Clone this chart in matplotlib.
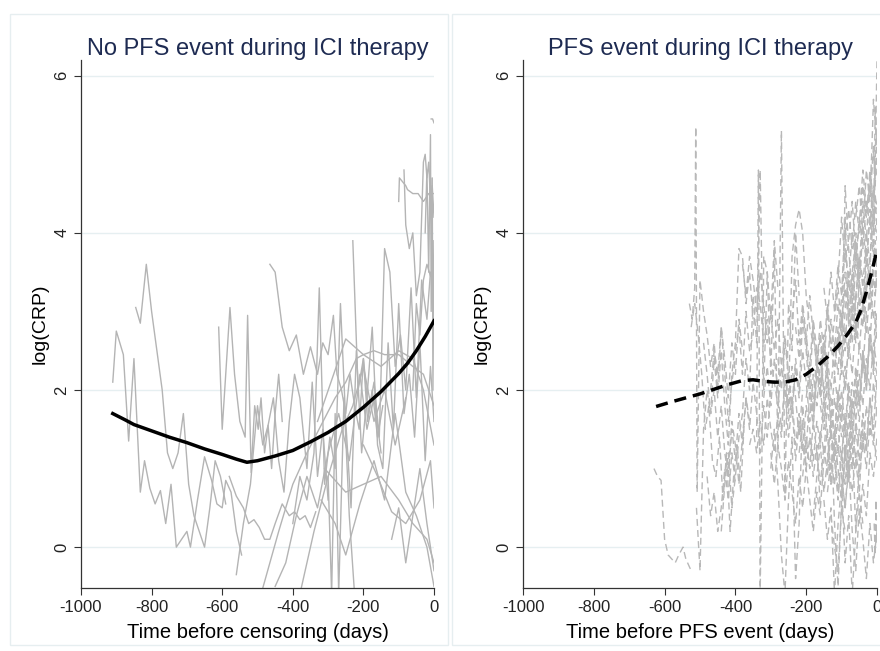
import matplotlib
matplotlib.use("Agg")
import matplotlib.pyplot as plt
from matplotlib.patches import Rectangle

plt.rcParams['font.family'] = ['Liberation Sans', 'DejaVu Sans']
plt.rcParams['axes.unicode_minus'] = False

# ---- No PFS event: individual patients (days before censoring, log CRP) ----
nopfs_days = [
    [-910, -900, -880, -865, -850, -832, -820, -805, -790, -775, -760, -745, -730, -715, -700, -690, -670, -650, -630, -615, -600, -590, -575, -560, -545],
    [-845, -832, -815, -800, -785, -770, -755, -740, -725, -710, -695, -680, -665, -650, -635, -620, -605, -590],
    [-610, -600, -590, -578, -565, -550, -535, -528, -518, -508, -498, -490, -480, -470, -460, -450, -440, -430],
    [-465, -450, -430, -410, -390, -370, -350, -330, -315, -300, -285, -275, -262, -250, -238, -225, -212, -200, -188, -175, -160, -145],
    [-580, -560, -540, -525, -510, -495, -480, -465, -450, -430, -410, -395, -380, -365, -350, -335],
    [-490, -440, -400, -360, -320, -280, -250, -220, -200, -170, -140, -100, -60, -30, 0],
    [-560, -540, -520, -500, -485, -470, -455, -440, -425, -410, -395, -380, -360, -345, -330, -315, -300],
    [-400, -380, -360, -340, -325, -310, -295, -280, -265, -250, -235, -220, -205, -190, -175, -160, -145, -130, -115, -100, -85, -70, -55, -40, -25, -10, 0],
    [-330, -250, -200, -150, -100, -60, -30, 0],
    [-450, -420, -390, -360, -330, -300, -270, -240, -210, -190, -170, -150],
    [-380, -340, -300, -260, -230, -200, -170, -140, -110, -80],
    [-230, -215, -200, -185, -170, -155, -140, -125, -110, -95, -80, -65, -50, -35, -20, -10, 0],
    [-100, -98, -80, -75, -60, -45, -30, -15, 0],
    [-85, -80, -70, -60, -50, -40, -30, -25, -20, -15, -10, -5, 0],
    [-25, -20, -15, -10, -8, -5, -3, 0],
    [-8, -4, 0],
    [-120, -100, -80, -60, -40, -20, 0],
    [-320, -280, -250, -210, -170, -140, -110, -80, -50, -20, 0],
    [-200, -160, -120, -80, -40, -10, 0],
    [-310, -250, -200, -150, -100, -60, -20, 0],
    [-60, -50, -40, -30, -20, -10, 0],
    [-300, -290, -280, -270, -255, -240, -225],
]
nopfs_crp = [
    [2.1, 2.75, 2.45, 1.35, 2.4, 0.7, 1.1, 0.75, 0.55, 0.72, 0.3, 0.8, 0.0, 0.1, 0.2, 0.0, 0.6, 1.15, 0.85, 0.55, 0.5, 0.85, 0.7, 0.2, -0.1],
    [3.05, 2.85, 3.6, 3.0, 2.5, 2.0, 1.2, 1.0, 1.2, 1.7, 0.8, 0.4, 0.2, 0.0, 0.5, 1.1, 0.9, 0.55],
    [2.8, 1.5, 2.2, 3.05, 2.2, 1.6, 1.4, 2.95, 0.95, 1.8, 1.5, 1.9, 1.2, 1.55, 1.0, 1.7, 2.2, 1.6],
    [3.6, 3.5, 2.8, 2.5, 2.7, 2.2, 2.55, 2.2, 2.6, 2.45, 2.95, 2.2, 2.0, 1.7, 2.2, 1.8, 1.5, 2.4, 1.6, 2.0, 1.4, 1.8],
    [0.9, 0.65, 0.5, 0.3, 0.35, 0.25, 0.1, 0.1, 0.3, 0.55, 0.4, 0.45, 0.35, 0.4, 0.25, 0.45],
    [-0.6, 0.2, 0.8, 1.2, 1.55, 1.9, 2.1, 2.4, 2.45, 2.5, 2.45, 2.45, 2.3, 2.2, 1.8],
    [-0.35, 0.3, 0.8, 1.8, 1.3, 1.55, 1.9, 1.1, 0.7, 1.6, 2.2, 1.9, 1.0, 2.1, 0.9, 1.5, 0.6],
    [0.3, 0.9, 0.6, 1.2, 3.3, 0.8, 1.4, 1.0, 3.1, 1.6, 0.5, 2.5, 1.2, 1.9, 2.8, 1.3, 1.0, 2.6, 1.5, 3.1, 1.7, 2.2, 1.4, 2.6, 1.1, 2.3, 1.6],
    [1.6, 2.65, 2.45, 2.3, 2.5, 2.4, 2.0, 1.3],
    [-0.5, -0.2, 0.4, 0.9, 0.5, 1.2, 1.7, 1.1, 2.2, 1.5, 1.9, 1.2],
    [-0.6, 0.2, 0.9, 1.5, 1.8, 2.3, 1.6, 2.0, 1.3, 1.9],
    [3.9, 2.0, 2.4, 1.7, 2.1, 1.4, 3.8, 3.5, 2.3, 2.7, 2.0, 3.3, 1.9, 3.4, 2.9, 3.5, 3.5],
    [4.4, 4.7, 4.6, 4.55, 4.5, 4.5, 4.4, 4.5, 4.5],
    [4.8, 4.1, 3.8, 4.0, 3.2, 3.5, 4.9, 5.0, 4.7, 4.9, 4.4, 4.6, 4.2],
    [4.0, 4.8, 3.5, 5.25, 3.0, 4.7, 2.0, 3.9],
    [5.45, 5.45, 5.4],
    [0.1, 0.5, -0.2, 0.4, 1.0, 0.3, -0.3],
    [0.6, 0.3, -0.1, 0.55, 1.1, 0.6, 1.7, 0.7, 0.4, 0.0, -0.5],
    [1.3, 0.9, 0.45, 0.3, 0.6, 1.1, 0.5],
    [1.0, 0.7, 0.8, 0.9, 0.6, 0.3, 0.1, -0.2],
    [2.0, 3.1, 2.7, 3.4, 3.6, 3.45, 3.45],
    [0.9, -0.6, 1.7, -0.6, 1.9, 0.4, -0.6],
]

# smoothed mean, no PFS event
nopfs_fit_days = [-910, -875, -850, -800, -750, -700, -650, -600, -560, -530, -500, -450, -400, -350, -300, -250, -200, -150, -100, -75, -50, -25, 0]
nopfs_fit_crp = [1.70, 1.62, 1.56, 1.48, 1.40, 1.33, 1.25, 1.18, 1.12, 1.08, 1.10, 1.16, 1.23, 1.34, 1.46, 1.60, 1.78, 1.98, 2.21, 2.34, 2.50, 2.68, 2.88]

# ---- PFS event: individual patients (days before PFS event, log CRP) ----
pfs_days = [
    [-630, -620, -610, -600, -590, -580, -570, -560, -548, -540, -530, -525],
    [-530, -522, -515, -512, -508, -500, -490, -480, -470, -460, -450, -440, -430, -420, -410, -400],
    [-525, -515, -505, -495, -485, -475, -465, -455, -445, -435, -425, -415, -405, -395, -385, -375],
    [-510, -500, -490, -480, -470, -460, -450, -440, -430, -420, -410, -400, -390, -380, -370, -360, -350],
    [-440, -430, -420, -410, -400, -390, -380, -370, -360, -350, -340, -330, -320, -310, -300, -290, -280],
    [-340, -335, -330, -325, -320, -310, -300, -290, -280, -270, -260, -250, -240, -230, -220],
    [-400, -390, -380, -370, -360, -350, -340, -330, -320, -310, -300, -290, -280, -270, -260, -250, -240, -230, -220, -210, -200],
    [-360, -350, -340, -330, -320, -310, -300, -290, -280, -270, -260, -250, -240, -230, -220, -210, -200, -190, -180],
    [-300, -290, -280, -270, -260, -250, -240, -230, -220, -210, -200, -190, -180, -170, -160, -150],
    [-250, -240, -230, -220, -210, -200, -190, -180, -170, -160, -150, -140, -130, -120, -110, -100],
    [-220, -210, -200, -190, -180, -170, -160, -150, -140, -130, -120, -110, -100, -90, -80, -70],
    [-200, -190, -180, -170, -160, -150, -140, -130, -120, -110, -100, -90, -80, -70, -60, -50],
    [-180, -170, -160, -150, -140, -130, -120, -110, -100, -90, -80, -70, -60, -50, -40, -30],
    [-160, -150, -140, -130, -120, -110, -100, -90, -80, -70, -60, -50, -40, -30, -20, -10, 0],
    [-140, -130, -120, -110, -100, -90, -80, -70, -60, -50, -40, -30, -20, -10, 0],
    [-120, -110, -100, -90, -80, -70, -60, -50, -40, -30, -20, -10, 0],
    [-100, -95, -90, -80, -70, -60, -50, -40, -30, -20, -10, 0],
    [-90, -80, -70, -60, -50, -40, -30, -20, -15, -10, -5, 0],
    [-80, -70, -60, -50, -40, -30, -20, -10, -5, 0],
    [-70, -60, -50, -40, -30, -20, -10, -5, 0],
    [-60, -50, -40, -30, -20, -10, -5, 0],
    [-40, -30, -20, -10, -5, 0],
    [-30, -20, -10, -5, 0],
    [-50, -40, -30, -20, -10, 0],
    [-100, -90, -80, -70, -60, -50, -40, -30, -20, -10, 0],
    [-240, -230, -220, -210, -200, -190, -180, -170, -160, -150, -140, -130],
    [-160, -150, -140, -130, -120, -110, -100, -90, -80, -70, -60, -50, -40],
    [-130, -120, -110, -100, -90, -80, -70, -60, -50, -40, -30, -20, -10, 0],
    [-110, -100, -90, -85, -80, -70, -60],
    [-20, -15, -10, -5, 0],
    [-8, -5, -3, 0],
    [-130, -120, -110, -100, -90],
    [-250, -240, -230, -220, -210, -200, -190, -180, -170, -160, -150, -140, -130, -120, -110, -100, -90, -80, -70],
    [-230, -220, -210, -200, -190, -180, -170, -160, -150, -140, -130, -120, -110, -100, -90, -80, -70, -60, -50, -40],
    [-210, -200, -190, -180, -170, -160, -150, -140, -130, -120, -110, -100, -90, -80, -70, -60, -50],
    [-190, -180, -170, -160, -150, -140, -130, -120, -110, -100, -90, -80, -70, -60, -50, -40, -30, -20, -10, 0],
    [-170, -160, -150, -140, -130, -120, -110, -100, -90, -80, -70, -60, -50, -40, -30, -20, -10, 0],
    [-150, -140, -130, -120, -110, -100, -90, -80, -70, -60, -50, -40, -30, -20, -10, 0],
    [-140, -130, -120, -110, -100, -90, -80, -70, -60, -50, -40, -30, -20, -10, 0],
    [-120, -110, -100, -90, -80, -70, -60, -50, -40, -30, -20, -10, 0],
    [-110, -100, -90, -80, -70, -60, -50, -40, -30, -20, -10, 0],
    [-90, -80, -70, -60, -50, -40, -30, -20, -10, 0],
    [-75, -65, -55, -45, -35, -25, -15, -5, 0],
    [-60, -50, -40, -30, -20, -10, 0],
    [-280, -270, -260, -250, -240, -230, -220, -210, -200, -190, -180, -170, -160, -150],
    [-320, -310, -300, -290, -280, -270, -260, -250, -240, -230, -220, -210],
    [-470, -460, -450, -440, -430, -420, -410, -400, -390, -380],
    [-200, -190, -180, -170, -160, -150, -140, -130, -120, -110, -100, -90, -80, -70, -60, -50, -40, -30, -20, -10, 0],
    [-100, -95, -90, -85, -80, -70, -60, -50, -40, -30, -20, -10, 0],
    [-150, -140, -130, -120, -110, -100, -90, -80, -70, -60, -50, -40],
    [-490, -480, -470, -460, -450, -440, -430, -420, -410, -400, -390, -380, -370, -360],
    [-420, -410, -400, -390, -380, -370, -360, -350, -340, -330, -320, -310, -300],
    [-380, -370, -360, -350, -340, -330, -320, -310, -300, -290, -280, -270, -260, -250],
    [-480, -470, -460, -450, -440, -430, -420, -410, -400],
    [-300, -290, -280, -270, -260, -250, -240, -230, -220, -210, -200, -190, -180, -170, -160],
]
pfs_crp = [
    [1.0, 0.9, 0.85, 0.1, -0.1, -0.15, -0.2, -0.1, 0.0, -0.15, -0.25, -0.3],
    [3.1, 2.9, 3.3, 5.35, 0.7, 3.4, 3.0, 2.7, 2.3, 2.6, 2.0, 2.8, 2.2, 1.6, 2.1, 2.4],
    [2.8, 3.1, 2.7, 2.2, 1.5, 1.8, 1.1, 0.9, 1.4, 0.6, 1.2, 0.2, 0.9, 1.3, 0.7, 1.6],
    [0.5, -0.3, 1.5, 2.0, 1.7, 2.4, 1.9, 2.5, 1.8, 1.3, 2.2, 2.6, 3.8, 3.7, 3.1, 3.5, 2.9],
    [0.2, 0.8, 1.2, 0.5, 0.9, 1.4, 1.7, 2.4, 2.0, 3.2, 2.6, 4.8, 2.0, 3.5, 2.9, 3.9, 3.3],
    [1.4, 4.8, -0.6, 1.2, 3.7, 3.5, 2.2, 3.8, 1.2, 5.3, 0.6, 3.1, 2.5, 4.0, 3.2],
    [2.5, 2.8, 2.2, 3.0, 2.5, 2.7, 3.3, 3.1, 2.6, 2.9, 2.4, 2.1, 1.8, 2.3, 2.0, 1.4, 1.8, 1.1, 1.6, 1.3, 1.0],
    [1.3, 1.5, 1.2, 1.6, 1.3, 1.9, 1.5, 1.2, 1.7, 1.4, 2.2, 1.8, 3.7, 4.1, 4.3, 4.0, 3.2, 2.8, 2.6],
    [1.0, 1.5, 0.8, -0.1, -0.6, 0.6, 1.4, -0.4, 0.3, 1.8, 1.2, 2.0, 1.5, 2.3, 1.9, 2.1],
    [2.2, 1.8, 2.4, 2.0, 2.9, 2.5, 1.9, 1.6, 2.2, 2.0, 1.6, 2.3, 1.5, 1.1, 1.8, 1.4],
    [1.2, 1.6, 1.0, 1.4, 0.9, 1.3, 0.5, 1.1, 1.5, 0.8, 1.3, 0.7, 1.2, 1.6, 1.0, 1.9],
    [2.6, 2.1, 2.8, 2.3, 2.7, 1.9, 2.4, 2.0, 2.6, 2.2, 3.0, 2.5, 3.4, 2.9, 3.6, 3.2],
    [0.4, 0.9, 1.3, 0.7, 1.1, 1.6, 0.3, -0.5, 0.6, 1.2, 0.8, 1.4, 0.2, 1.1, 1.7, 1.3],
    [1.8, 1.5, 2.1, 1.7, 1.4, 2.0, 1.6, 2.3, 1.9, 1.5, 2.2, 1.8, 2.5, 2.1, 2.7, 2.4, 2.2],
    [1.2, 0.8, 1.4, 1.0, 0.6, 1.3, 0.9, 1.6, 1.1, 0.7, 1.5, 1.2, 1.9, 1.4, 1.1],
    [3.0, 3.4, 4.2, 3.6, 3.9, 4.4, 3.7, 4.1, 4.8, 4.3, 4.6, 5.0, 4.7],
    [2.4, 3.5, 4.6, 3.8, 3.2, 4.0, 3.5, 4.4, 3.9, 4.7, 4.2, 4.4],
    [2.0, 2.6, 3.1, 2.7, 3.4, 3.0, 3.8, 3.3, 4.5, 4.0, 5.6, 5.2],
    [1.5, 2.1, 1.8, 2.6, 2.2, 3.0, 2.5, 3.5, 3.2, 3.8],
    [3.5, 3.9, 3.3, 4.1, 3.6, 4.3, 3.8, 4.5, 4.0],
    [4.2, 4.6, 4.0, 4.8, 4.4, 5.1, 4.6, 5.3],
    [3.0, 3.6, 4.2, 3.7, 4.9, 6.2],
    [2.0, 2.7, 2.2, 3.0, 2.6],
    [0.3, 0.8, 0.4, 1.2, 0.9, 1.4],
    [0.9, 0.5, 1.1, 0.2, -0.3, 0.5, 0.1, -0.4, 0.3, -0.2, 0.2],
    [2.9, 3.4, 2.6, 3.1, 2.7, 2.3, 2.9, 2.5, 2.0, 2.6, 2.2, 1.8],
    [2.7, 2.3, 3.0, 2.5, 2.9, 3.3, 2.8, 3.5, 3.1, 2.6, 3.2, 3.7, 3.4],
    [1.9, 1.4, 2.0, 1.6, 1.1, 1.7, 1.3, 2.0, 1.6, 2.4, 2.0, 2.8, 2.3, 3.0],
    [2.5, 3.2, 4.2, 3.5, 2.8, 3.3, 3.0],
    [4.5, 5.0, 5.7, 5.4, 5.1],
    [0.3, -0.1, 0.6, 0.0],
    [0.4, 0.0, -0.3, 0.5, 0.2],
    [1.6, 1.9, 1.3, 1.7, 1.2, 1.8, 1.5, 1.1, 1.6, 1.3, 1.9, 1.4, 1.0, 1.5, 1.2, 1.8, 1.4, 2.0, 1.7],
    [2.8, 2.4, 3.0, 2.6, 3.2, 2.7, 2.3, 2.9, 2.5, 3.1, 2.6, 2.2, 2.8, 2.4, 3.0, 3.5, 3.1, 3.8, 3.4, 4.0],
    [0.9, 1.4, 1.0, 1.6, 1.2, 0.8, 1.3, 0.9, 1.5, 1.1, 0.6, 1.2, 0.8, 1.4, 1.0, 1.6, 1.3],
    [2.1, 1.7, 2.3, 1.9, 2.5, 2.0, 1.6, 2.2, 1.8, 2.4, 2.0, 2.6, 2.2, 2.9, 2.5, 3.1, 2.7, 3.3, 2.9, 3.5],
    [1.1, 1.5, 1.2, 1.8, 1.4, 1.9, 1.5, 1.1, 1.7, 1.3, 1.9, 1.6, 2.2, 1.8, 2.4, 2.0, 2.6, 2.3],
    [3.3, 2.9, 3.5, 3.0, 3.6, 3.2, 3.8, 3.4, 4.0, 3.6, 4.2, 3.8, 4.4, 4.1, 4.6, 4.3],
    [0.7, 1.1, 0.8, 1.3, 0.9, 0.5, 1.0, 0.7, 1.2, 0.9, 1.4, 1.0, 1.6, 1.3, 1.8],
    [2.3, 2.7, 2.2, 2.8, 2.4, 3.0, 2.6, 3.2, 2.8, 3.4, 3.0, 3.7, 3.3],
    [1.6, 2.0, 1.5, 2.1, 1.7, 2.3, 1.8, 2.5, 2.1, 2.7, 2.3, 2.0],
    [3.9, 4.3, 3.8, 4.4, 4.0, 4.6, 4.2, 4.8, 4.4, 5.0],
    [2.6, 3.1, 2.7, 3.3, 2.9, 3.6, 3.2, 3.9, 3.5],
    [1.0, 1.5, 1.2, 1.8, 1.4, 2.1, 1.7],
    [2.4, 2.0, 2.6, 2.2, 1.7, 2.3, 1.9, 2.5, 2.1, 1.6, 2.2, 1.8, 2.4, 2.0],
    [1.9, 2.3, 1.8, 2.4, 2.0, 1.5, 2.1, 1.7, 2.3, 1.9, 1.4, 2.0],
    [2.0, 2.5, 2.2, 2.8, 2.4, 1.9, 2.6, 2.2, 2.9, 2.5],
    [1.9, 2.3, 1.8, 2.5, 2.1, 2.7, 2.3, 2.9, 2.5, 3.1, 2.7, 3.3, 2.9, 3.5, 3.1, 3.7, 3.3, 4.0, 3.6, 4.3, 3.9],
    [1.2, 0.8, 1.3, 0.9, 1.4, 1.0, 1.5, 1.1, 1.7, 1.3, 1.9, 1.5, 2.2],
    [0.6, 0.1, 0.5, -0.6, 0.3, 0.8, -0.2, 0.4, -0.6, 0.2, 0.7, 0.3],
    [2.6, 2.2, 1.7, 2.0, 1.4, 1.8, 1.2, 0.9, 1.5, 1.1, 1.7, 1.3, 1.9, 1.6],
    [1.0, 1.6, 1.3, 0.8, 1.4, 1.9, 1.5, 2.1, 1.7, 1.2, 1.8, 1.4, 2.0],
    [3.6, 3.2, 3.7, 3.4, 3.0, 3.5, 3.1, 2.6, 3.0, 2.5, 2.9, 2.3, 2.7, 2.2],
    [0.9, 0.4, 0.7, 0.2, 0.5, 1.0, 0.6, 1.2, 0.8],
    [1.2, 0.8, 1.3, 1.0, 0.6, 1.1, 0.7, 0.3, 0.9, 0.5, 1.0, 0.6, 0.2, 0.7, 0.4],
]

# smoothed mean, PFS event
pfs_fit_days = [-624, -580, -540, -500, -460, -420, -380, -350, -320, -290, -260, -230, -200, -170, -140, -110, -85, -60, -45, -30, -15, 0]
pfs_fit_crp = [1.79, 1.85, 1.90, 1.95, 2.01, 2.07, 2.12, 2.13, 2.11, 2.10, 2.10, 2.13, 2.20, 2.30, 2.42, 2.56, 2.70, 2.86, 3.02, 3.25, 3.50, 3.78]

titles = ["No PFS event during ICI therapy", "PFS event during ICI therapy"]
xlabels = ["Time before censoring (days)", "Time before PFS event (days)"]
xticks = [-1000, -800, -600, -400, -200, 0]
yticks = [0, 2, 4, 6]

fig = plt.figure(figsize=(8.8, 6.51), dpi=100)

# faint panel frames (graph combine look)
for x0, w in [(10 / 880, 438 / 880), (452 / 880, 430 / 880)]:
    fig.patches.append(Rectangle((x0, 6 / 651), w, 631 / 651, transform=fig.transFigure,
                                 fill=False, edgecolor='#e6eef0', lw=1.0))

ax1 = fig.add_axes([81 / 880, 0.0968, 353 / 880, 0.811])
ax2 = fig.add_axes([523 / 880, 0.0968, 354 / 880, 0.811])

for d, c in zip(nopfs_days, nopfs_crp):
    ax1.plot(d, c, color='#b4b4b4', lw=1.0, zorder=2)
ax1.plot(nopfs_fit_days, nopfs_fit_crp, color='black', lw=2.5, zorder=3)

for d, c in zip(pfs_days, pfs_crp):
    ax2.plot(d, c, color='#b8b8b8', lw=1.0, linestyle=(0, (5, 3)), zorder=2)
ax2.plot(pfs_fit_days, pfs_fit_crp, color='black', lw=2.5, linestyle=(0, (3.5, 2)), zorder=3)

for ax, title, xl in zip([ax1, ax2], titles, xlabels):
    ax.set_xlim(-1000, 0)
    ax.set_ylim(-0.52, 6.2)
    ax.set_xticks(xticks)
    ax.set_yticks(yticks)
    ax.set_yticklabels([str(v) for v in yticks], rotation=90, va='center')
    ax.tick_params(axis='both', labelsize=12, length=5, width=0.8, color='#333333', labelcolor='#222222')
    ax.grid(axis='y', color='#e6eff1', lw=1.0, zorder=0)
    ax.set_axisbelow(True)
    for s in ['top', 'right']:
        ax.spines[s].set_visible(False)
    for s in ['left', 'bottom']:
        ax.spines[s].set_color('#333333')
        ax.spines[s].set_linewidth(0.9)
    ax.set_title(title, fontsize=17, color='#1e2b52', pad=2)
    ax.set_xlabel(xl, fontsize=14.5, labelpad=6)
    ax.set_ylabel('log(CRP)', fontsize=14, labelpad=4)

fig.savefig('out.png', dpi=100)
